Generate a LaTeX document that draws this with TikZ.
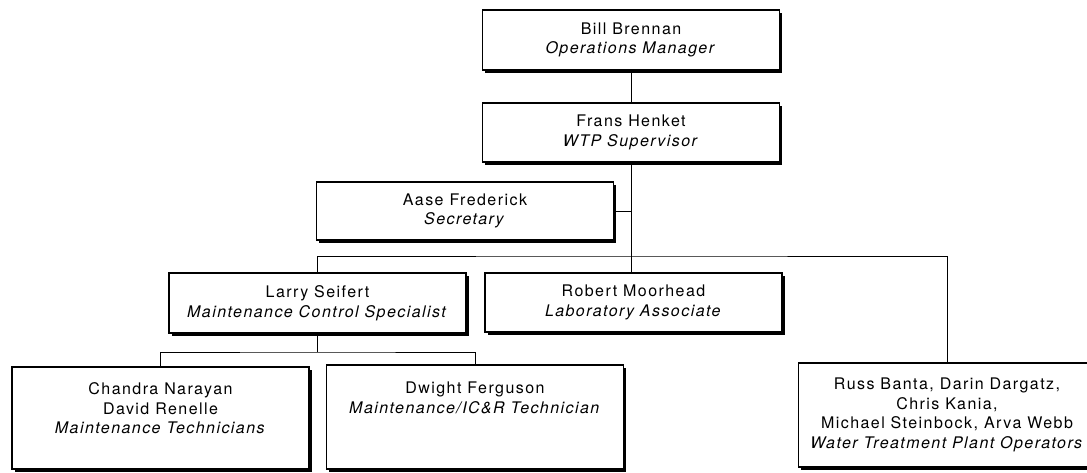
\documentclass[tikz,border=0pt]{standalone}
\usepackage{fontspec}
\newfontfamily\orgfont{TeX Gyre Heros}[LetterSpace=9]
\usepackage{tikz}
\usetikzlibrary{shadows}

\tikzset{
 person/.style={draw, line width=1.1pt, fill=white, align=center,
   minimum width=297pt, inner sep=2pt,
   font=\orgfont\fontsize{16}{19.5}\selectfont,
   drop shadow={shadow xshift=2.5pt, shadow yshift=-2.5pt, fill=black, opacity=1}},
 tie/.style={line width=1pt}
}

\begin{document}
\begin{tikzpicture}[x=1pt,y=-1pt]

 \useasboundingbox (0,0) rectangle (1087,472);

 \node[person, minimum height=60pt] (brennan) at (631,40) {Bill Brennan\\ \textit{Operations Manager}};

 \node[person, minimum height=59pt] (henket) at (631,132.5) {Frans Henket\\ \textit{WTP Supervisor}};

 \node[person, minimum height=58pt] (frederick) at (465,211) {Aase Frederick\\ \textit{Secretary}};

 \node[person, minimum height=60pt] (seifert) at (317.5,303) {Larry Seifert\\ \textit{Maintenance Control Specialist}};

 \node[person, minimum height=59pt] (moorhead) at (633.5,302.5) {Robert Moorhead\\ \textit{Laboratory Associate}};

 \node[person, minimum height=102pt] (narayan) at (160.5,418) {Chandra Narayan\\ David Renelle\\ \textit{Maintenance Technicians}\\ ~};

 \node[person, minimum height=104pt] (ferguson) at (475,417) {Dwight Ferguson\\ \textit{Maintenance/IC\&R Technician}\\ ~\\ ~};

 \node[person, minimum height=104pt] (operators) at (947,415) {Russ Banta, Darin Dargatz,\\ Chris Kania,\\ Michael Steinbock, Arva Webb\\ \textit{Water Treatment Plant Operators}};

 \coordinate (bus) at (631,256);
 \coordinate (subbus) at (317.5,352);

 \draw[tie] (brennan) -- (henket);
 \draw[tie] (henket.south) -- (henket.south |- moorhead.north);
 \draw[tie] (frederick.east) -- (henket.south |- frederick.east);
 \draw[tie] (seifert.north) |- (bus) -| (operators.north);
 \draw[tie] (seifert.south) -- (subbus);
 \draw[tie] (narayan.north) |- (subbus) -| (ferguson.north);

\end{tikzpicture}
\end{document}
